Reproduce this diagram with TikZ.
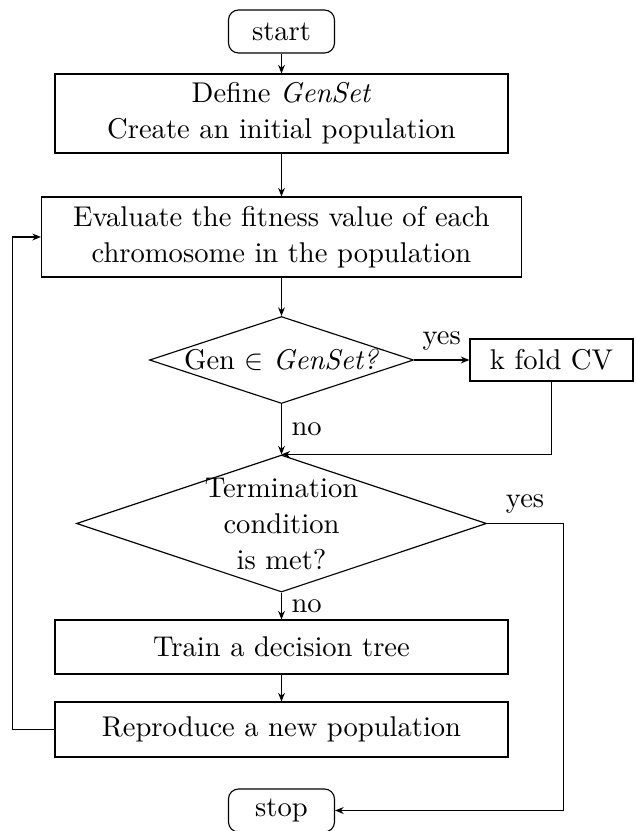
\documentclass[tikz,border=0pt]{standalone}
\usetikzlibrary{shapes.geometric,arrows.meta}
\newdimen\pxu \pxu=0.35pt
\begin{document}
\begin{tikzpicture}[x=0.35pt, y=-0.35pt,
  font=\fontsize{10}{12.6}\selectfont,
  sz/.style 2 args={minimum width=#1*\pxu, minimum height=#2*\pxu},
  proc/.style={draw, rectangle, inner sep=0pt, align=center},
  term/.style={draw, rectangle, rounded corners=3.5pt, inner sep=0pt, sz={106}{43}},
  decision/.style={draw, diamond, inner sep=0pt},
  arr/.style={-{Stealth[length=3pt,width=2.4pt]}}
]
\useasboundingbox (0,0) rectangle (636,831);

% process blocks
\node[term] (begin) at (281.5,31.5) {start};
\node[proc, sz={453}{79}] (define) at (281.5,113.5)
  {Define \textit{GenSet}\\Create an initial population};
\node[proc, sz={480}{80}] (eval) at (281.5,237)
  {Evaluate the fitness value of each\\chromosome in the population};
\node[decision, sz={264}{87}, label={center:Gen $\in$ \textit{GenSet?}}] (gen) at (281.5,360) {};
\node[proc, sz={163}{42}] (cv) at (551.5,360) {k fold CV};
\node[decision, sz={410}{137},
  label={[align=center]center:Termination\\condition\\is met?}] (cond) at (281.5,523.5) {};
\node[proc, sz={453}{54}] (train) at (281.5,647) {Train a decision tree};
\node[proc, sz={453}{55}] (repro) at (281.5,729.5) {Reproduce a new population};
\node[term] (end) at (281.5,810.5) {stop};

% connectors
\draw[arr] (begin) -- (define);
\draw[arr] (define) -- (eval);
\draw[arr] (eval) -- (gen);
\draw[arr] (gen) -- node[above]{yes} (cv);
\draw[arr] (gen) -- node[right]{no} (cond);
\draw[arr] (cv.south) |- (cond.north);
\draw[arr] (cond) -- node[right]{no} (train);
\draw[arr] (train) -- (repro);
\draw[arr] (repro.west) -- ++(-42,0) |- (eval.west);
\draw[arr] (cond.east) -- node[above]{yes} ++(76,0) |- (end.east);
\end{tikzpicture}
\end{document}
